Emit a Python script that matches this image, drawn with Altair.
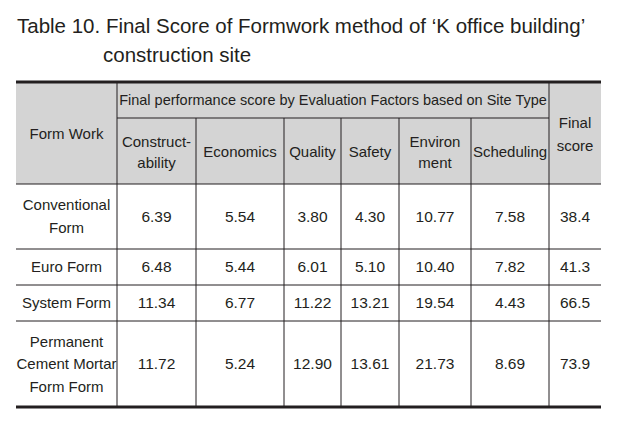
import altair as alt
import pandas as pd

# ---- data ----
forms = ["Conventional\nForm", "Euro Form", "System Form", "Permanent\nCement Mortar\nForm Form"]
factor_labels = ["Construct-\nability", "Economics", "Quality", "Safety", "Environ\nment", "Scheduling"]
constructability = [6.39, 6.48, 11.34, 11.72]
economics = [5.54, 5.44, 6.77, 5.24]
quality = [3.80, 6.01, 11.22, 12.90]
safety = [4.30, 5.10, 13.21, 13.61]
environment = [10.77, 10.40, 19.54, 21.73]
scheduling = [7.58, 7.82, 4.43, 8.69]
final_score = [38.4, 41.3, 66.5, 73.9]
title_lines = ["Table 10. Final Score of Formwork method of \u2018K office building\u2019", "construction site"]
group_header = "Final performance score by Evaluation Factors based on Site Type"
first_header = "Form Work"
last_header = "Final\nscore"

# ---- layout (page pixel coordinates) ----
col_edges = [16, 117, 196, 284, 341, 399, 471, 549, 601]
top_y, sub_y, head_bottom = 82, 118, 184
row_edges = [184, 249, 285, 321, 407]
FONT = "Liberation Sans"
INK = "#231f20"
BODY = 15
LH = 22.5

col_centers = [(a + b) / 2 for a, b in zip(col_edges[:-1], col_edges[1:])]
row_centers = [(a + b) / 2 for a, b in zip(row_edges[:-1], row_edges[1:])]

X = alt.Scale(domain=[8, 610], range=[0, 602])
Y = alt.Scale(domain=[8, 418], range=[0, 410])


def xenc(f):
    return alt.X(f, type="quantitative", scale=X, axis=None)


def yenc(f):
    return alt.Y(f, type="quantitative", scale=Y, axis=None)


def explode(labels, xs, ys, lh=LH):
    out = []
    for t, x, y in zip(labels, xs, ys):
        parts = t.split("\n")
        n = len(parts)
        for i, p in enumerate(parts):
            out.append({"t": p, "x": x, "y": y + (i - (n - 1) / 2) * lh})
    return pd.DataFrame(out)


# header background
bg = pd.DataFrame({"x": [col_edges[0]], "x2": [col_edges[-1]], "y": [top_y + 1], "y2": [head_bottom]})
bg_layer = alt.Chart(bg).mark_rect(color="#d4d4d4").encode(
    x=xenc("x"), x2="x2", y=yenc("y"), y2="y2")

# horizontal thin lines
hl = pd.DataFrame({
    "y": [sub_y] + row_edges[:-1],
    "x": [col_edges[1]] + [col_edges[0]] * (len(row_edges) - 1),
    "x2": [col_edges[-2]] + [col_edges[-1]] * (len(row_edges) - 1),
})
h_layer = alt.Chart(hl).mark_rule(color=INK, strokeWidth=1).encode(
    x=xenc("x"), x2="x2", y=yenc("y"))

# thick lines
tl = pd.DataFrame({"y": [top_y, row_edges[-1]], "x": [col_edges[0]] * 2, "x2": [col_edges[-1]] * 2})
t_layer = alt.Chart(tl).mark_rule(color=INK, strokeWidth=3).encode(
    x=xenc("x"), x2="x2", y=yenc("y"))

# vertical lines
vx = col_edges[1:-1]
vl = pd.DataFrame({
    "x": vx,
    "y": [top_y if (i == 0 or i == len(vx) - 1) else sub_y for i in range(len(vx))],
    "y2": [row_edges[-1]] * len(vx),
})
v_layer = alt.Chart(vl).mark_rule(color=INK, strokeWidth=1).encode(
    x=xenc("x"), y=yenc("y"), y2="y2")

# header texts
head_mid = (top_y + head_bottom) / 2 + 1
ht = pd.concat([
    explode([first_header, last_header], [col_centers[0], col_centers[-1]], [head_mid, head_mid], lh=23),
    explode(factor_labels, col_centers[1:-1], [(sub_y + head_bottom) / 2 + 1] * len(factor_labels), lh=21),
])
ht_layer = alt.Chart(ht).mark_text(font=FONT, fontSize=BODY, color=INK,
                                    baseline="middle", align="center").encode(
    x=xenc("x"), y=yenc("y"), text="t:N")

gh = pd.DataFrame({"t": [group_header], "x": [(col_edges[1] + col_edges[-2]) / 2],
                   "y": [(top_y + sub_y) / 2 + 1]})
gh_layer = alt.Chart(gh).mark_text(font=FONT, fontSize=14.5, color=INK,
                                    baseline="middle", align="center").encode(
    x=xenc("x"), y=yenc("y"), text="t:N")

# row labels
rl = explode(forms, [col_centers[0]] * len(forms), row_centers)
rl_layer = alt.Chart(rl).mark_text(font=FONT, fontSize=BODY, color=INK,
                                    baseline="middle", align="center").encode(
    x=xenc("x"), y=yenc("y"), text="t:N")

# values
series = [constructability, economics, quality, safety, environment, scheduling]
recs = []
for ci, s in enumerate(series):
    for ri, v in enumerate(s):
        recs.append({"v": v, "x": col_centers[ci + 1], "y": row_centers[ri]})
vals = pd.DataFrame(recs)
val_layer = alt.Chart(vals).mark_text(font=FONT, fontSize=BODY + 0.5, color=INK, baseline="middle",
                                       align="center").encode(
    x=xenc("x"), y=yenc("y"), text=alt.Text("v:Q", format=".2f"))

fin = pd.DataFrame({"v": final_score, "x": [col_centers[-1]] * 4, "y": row_centers})
fin_layer = alt.Chart(fin).mark_text(font=FONT, fontSize=BODY + 0.5, color=INK, baseline="middle",
                                      align="center").encode(
    x=xenc("x"), y=yenc("y"), text=alt.Text("v:Q", format=".1f"))

# title
tt = pd.DataFrame({"t": title_lines, "x": [17, 103], "y": [27, 56]})
title_layer = alt.Chart(tt).mark_text(font=FONT, fontSize=20.5, color=INK, baseline="middle",
                                       align="left").encode(
    x=xenc("x"), y=yenc("y"), text="t:N")

chart = alt.layer(bg_layer, h_layer, v_layer, t_layer, ht_layer, gh_layer, rl_layer, val_layer,
                  fin_layer, title_layer).properties(
    width=602, height=410, padding=0, autosize=alt.AutoSizeParams(type="none"),
    background="#ffffff"
).configure_view(stroke="transparent", strokeWidth=0)

chart.save("out.html", embed_options={"renderer": "svg", "actions": False})
